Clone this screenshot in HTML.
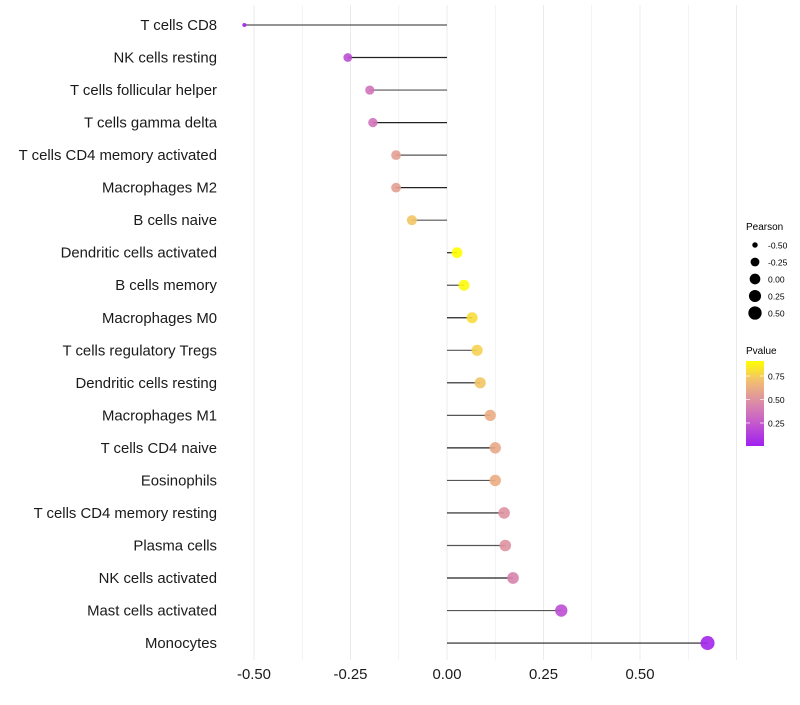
<!DOCTYPE html>
<html><head><meta charset="utf-8"><style>
body{margin:0;background:#fff;width:800px;height:700px;overflow:hidden}
svg{font-family:"Liberation Sans",sans-serif}
</style></head><body>
<svg id="chart" width="800" height="700">
<defs><linearGradient id="pg" x1="0" y1="1" x2="0" y2="0">
<stop offset="0" stop-color="#A020F0"/><stop offset="0.33" stop-color="#CC66C4"/><stop offset="0.55" stop-color="#DE93A0"/><stop offset="0.77" stop-color="#F2BF70"/><stop offset="1" stop-color="#FFFF00"/>
</linearGradient></defs>
<g id="grid"></g><g id="marks"></g><g id="ylab"></g><g id="xlab"></g>
<g font-size="10">
<text x="746" y="230" font-size="10">Pearson</text>
<g id="sizeleg"></g>
</g>
<g>
<text x="746" y="354" font-size="10">Pvalue</text>
<rect x="746" y="361" width="18" height="85" fill="url(#pg)"/>
<g id="cbt"></g>
</g>
</svg>
<script>
const categories=["T cells CD8","NK cells resting","T cells follicular helper","T cells gamma delta","T cells CD4 memory activated","Macrophages M2","B cells naive","Dendritic cells activated","B cells memory","Macrophages M0","T cells regulatory  Tregs ","Dendritic cells resting","Macrophages M1","T cells CD4 naive","Eosinophils","T cells CD4 memory resting","Plasma cells","NK cells activated","Mast cells activated","Monocytes"];
const pearson=[-0.525,-0.257,-0.2,-0.192,-0.132,-0.132,-0.091,0.026,0.044,0.065,0.078,0.086,0.112,0.125,0.125,0.148,0.151,0.171,0.296,0.675];
const pvalue=[0.01,0.2,0.36,0.36,0.56,0.56,0.72,0.91,0.89,0.8,0.76,0.72,0.62,0.6,0.62,0.5,0.5,0.43,0.2,0.03];
const xTicks=[-0.5,-0.25,0,0.25,0.5];
const xTickLabels=["-0.50","-0.25","0.00","0.25","0.50"];
const sizeLegend=[-0.5,-0.25,0,0.25,0.5];
const sizeLegendLabels=["-0.50","-0.25","0.00","0.25","0.50"];
const cbTicks=[0.25,0.5,0.75];
const cbTickLabels=["0.25","0.50","0.75"];
const NS="http://www.w3.org/2000/svg";
const x=v=>447+v*386;
const y=i=>25+i*32.53;
const r=v=>2+Math.sqrt(Math.max(0,v+0.525))*4.6;
const stops=[[0,[160,32,240]],[0.33,[204,102,196]],[0.55,[222,147,160]],[0.77,[242,191,112]],[1,[255,255,0]]];
const cb=p=>(p-0.005)/(0.91-0.005);
function col(p){let t=Math.min(1,Math.max(0,cb(p)));for(let k=1;k<stops.length;k++){if(t<=stops[k][0]){const a=stops[k-1],b=stops[k],f=(t-a[0])/(b[0]-a[0]);return "rgb("+a[1].map((c,j)=>Math.round(c+(b[1][j]-c)*f)).join(",")+")";}}return "rgb(255,255,0)";}
function mk(t,at,parent){const e=document.createElementNS(NS,t);for(const k in at)e.setAttribute(k,at[k]);parent.appendChild(e);return e;}
const grid=document.getElementById('grid');
for(let v=-0.5;v<=0.76;v+=0.125){const g=mk('line',{x1:x(v),x2:x(v),y1:5,y2:660,stroke:'#ebebeb','stroke-width':(Math.abs(v/0.25-Math.round(v/0.25))<0.01)?1:0.6},grid);

}
const marks=document.getElementById('marks'),ylab=document.getElementById('ylab');
categories.forEach((c,i)=>{
 const l=mk('line',{x1:x(0),x2:x(pearson[i]),y1:y(i),y2:y(i),stroke:i%2?'#222':'#555','stroke-width':1.2},marks);
 
 
 const d=mk('circle',{cx:x(pearson[i]),cy:y(i),r:r(pearson[i]),fill:col(pvalue[i]),'fill-opacity':0.9},marks);
 
 
 const t=mk('text',{x:217,y:y(i)+5,'text-anchor':'end','font-size':14.9,fill:'#1a1a1a'},ylab);t.textContent=c;
 
 
});
const xl=document.getElementById('xlab');
xTicks.forEach((v,i)=>{const t=mk('text',{x:x(v),y:679,'text-anchor':'middle','font-size':14.9,fill:'#1a1a1a'},xl);t.textContent=xTickLabels[i];

});
const sl=document.getElementById('sizeleg');
sizeLegend.forEach((v,i)=>{const yy=245+i*17;mk('circle',{cx:755,cy:yy,r:r(v),fill:'#000'},sl);
const t=mk('text',{x:768,y:yy+3.5,'font-size':8.5},sl);t.textContent=sizeLegendLabels[i];

});
const ct=document.getElementById('cbt');
cbTicks.forEach((v,i)=>{const yy=446-cb(v)*85;mk('line',{x1:746,x2:750,y1:yy,y2:yy,stroke:'#fff','stroke-opacity':0.7},ct);mk('line',{x1:760,x2:764,y1:yy,y2:yy,stroke:'#fff','stroke-opacity':0.7},ct);
const t=mk('text',{x:768,y:yy+3.5,'font-size':8.5},ct);t.textContent=cbTickLabels[i];

});
</script>
</body></html>
